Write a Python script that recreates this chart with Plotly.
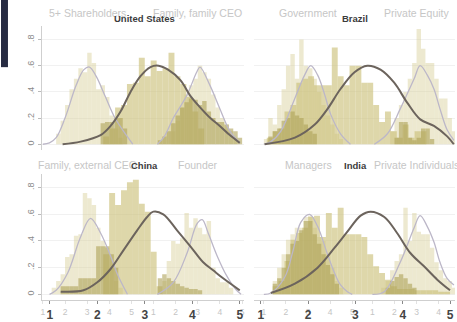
import plotly.graph_objects as go

W, H = 457, 322

# ---------------- United States ----------------
us_pale1_x = [1.7, 1.9, 2.1, 2.3, 2.5, 2.7, 2.9, 3.1, 3.3, 3.5, 3.7, 3.9, 4.1, 4.3, 4.5]
us_pale1_y = [0.08, 0.18, 0.30, 0.42, 0.50, 0.58, 0.55, 0.70, 0.62, 0.42, 0.45, 0.36, 0.22, 0.12, 0.05]
us_dark1_x = [3.7, 3.9, 4.1, 4.3, 4.5, 4.7]
us_dark1_y = [0.16, 0.17, 0.17, 0.20, 0.20, 0.12]
us_pale2_x = [1.9, 2.1, 2.3, 2.5, 2.7, 2.9, 3.1, 3.3, 3.5, 3.7, 3.9, 4.1, 4.3, 4.5, 4.7]
us_pale2_y = [0.10, 0.18, 0.28, 0.38, 0.45, 0.50, 0.60, 0.55, 0.50, 0.38, 0.28, 0.20, 0.15, 0.10, 0.05]
us_dark2_x = [1.3, 1.5, 1.7, 1.9, 2.1, 2.3, 2.5, 2.7, 2.9, 3.1, 3.3, 3.5, 3.7, 3.9, 4.1, 4.3, 4.5, 4.7, 4.9]
us_dark2_y = [0.03, 0.06, 0.10, 0.16, 0.22, 0.28, 0.32, 0.35, 0.34, 0.30, 0.33, 0.25, 0.20, 0.17, 0.17, 0.15, 0.12, 0.10, 0.05]
us_bold_x = [2.1875, 2.3125, 2.4375, 2.5625, 2.6875, 2.8125, 2.9375, 3.0625, 3.1875,
             3.3125, 3.4375, 3.5625, 3.6875, 3.8125, 3.9375, 4.0625, 4.1875]
us_bold_y = [0.06, 0.12, 0.28, 0.30, 0.46, 0.47, 0.66, 0.52, 0.64,
             0.56, 0.58, 0.70, 0.52, 0.46, 0.36, 0.25, 0.12]
us_curve1_x = [1.0, 1.3, 1.6, 2.0, 2.5, 2.85, 3.1, 3.4, 3.8, 4.25, 4.8, 5.05]
us_curve1_y = [0.0, 0.01, 0.05, 0.20, 0.45, 0.57, 0.59, 0.52, 0.37, 0.20, 0.06, 0.0]
us_curve2_x = [1.18, 1.5, 1.9, 2.5, 2.95, 3.1, 3.55, 4.0, 4.45, 4.9]
us_curve2_y = [0.0, 0.06, 0.20, 0.37, 0.55, 0.59, 0.45, 0.27, 0.10, 0.01]
us_fit_x = [1.27, 1.65, 2.07, 2.28, 2.49, 2.70, 2.91, 3.12, 3.29, 3.49, 3.75, 3.96, 4.17, 4.38, 4.58, 4.79, 5.0]
us_fit_y = [0.0, 0.02, 0.07, 0.14, 0.25, 0.40, 0.52, 0.59, 0.60, 0.57, 0.49, 0.37, 0.28, 0.20, 0.14, 0.07, 0.01]

# ---------------- Brazil ----------------
br_pale1_x = [1.1, 1.3, 1.5, 1.7, 1.9, 2.1, 2.3, 2.5, 2.7, 2.9, 3.1, 3.3, 3.5, 3.7, 3.9, 4.1, 4.3, 4.5]
br_pale1_y = [0.04, 0.20, 0.15, 0.30, 0.42, 0.60, 0.69, 0.50, 0.80, 0.60, 0.58, 0.50, 0.40, 0.30, 0.22, 0.15, 0.08, 0.04]
br_dark1_x = [1.3, 1.5, 1.7, 1.9, 2.1, 2.3, 2.5, 2.7, 2.9, 3.1, 3.3]
br_dark1_y = [0.06, 0.10, 0.12, 0.18, 0.20, 0.25, 0.22, 0.20, 0.15, 0.10, 0.08]
br_pale2_x = [1.9, 2.1, 2.3, 2.5, 2.7, 2.9, 3.1, 3.3, 3.5, 3.7, 3.9, 4.1, 4.3, 4.5, 4.7]
br_pale2_y = [0.10, 0.20, 0.30, 0.40, 0.50, 0.62, 0.88, 0.73, 0.62, 0.62, 0.50, 0.35, 0.35, 0.20, 0.10]
br_dark2_x = [2.1, 2.3, 2.5, 2.7, 2.9, 3.1, 3.3, 3.5, 3.7]
br_dark2_y = [0.05, 0.17, 0.17, 0.05, 0.03, 0.05, 0.12, 0.12, 0.04]
br_bold_x = [1.1875, 1.3125, 1.4375, 1.5625, 1.6875, 1.8125, 1.9375, 2.0625, 2.1875, 2.3125,
             2.4375, 2.5625, 2.6875, 2.8125, 2.9375, 3.0625, 3.1875, 3.3125, 3.4375, 3.5625,
             3.6875, 3.8125, 3.9375, 4.0625, 4.1875, 4.3125, 4.4375]
br_bold_y = [0.05, 0.10, 0.12, 0.25, 0.30, 0.47, 0.50, 0.52, 0.45, 0.45,
             0.45, 0.74, 0.52, 0.45, 0.60, 0.60, 0.47, 0.47, 0.30, 0.17,
             0.25, 0.10, 0.05, 0.15, 0.05, 0.10, 0.10]
br_curve1_x = [1.0, 1.32, 1.77, 2.40, 2.85, 3.12, 3.43, 3.75, 4.02, 4.47, 4.92]
br_curve1_y = [0.0, 0.02, 0.10, 0.35, 0.53, 0.60, 0.53, 0.38, 0.23, 0.08, 0.0]
br_curve2_x = [1.09, 1.68, 2.26, 2.89, 3.16, 3.48, 3.79, 4.06, 4.38, 4.69]
br_curve2_y = [0.0, 0.08, 0.27, 0.50, 0.60, 0.53, 0.42, 0.27, 0.11, 0.03]
br_fit_x = [1.08, 1.72, 2.14, 2.41, 2.68, 2.98, 3.25, 3.53, 3.82, 4.09, 4.37, 4.66, 4.94, 5.08]
br_fit_y = [0.0, 0.05, 0.15, 0.27, 0.42, 0.55, 0.60, 0.57, 0.47, 0.32, 0.19, 0.14, 0.06, 0.0]

# ---------------- China ----------------
cn_pale1_x = [1.5, 1.7, 1.9, 2.1, 2.3, 2.5, 2.7, 2.9, 3.1, 3.3, 3.5, 3.7, 3.9, 4.1, 4.3, 4.5]
cn_pale1_y = [0.05, 0.10, 0.15, 0.28, 0.30, 0.44, 0.45, 0.76, 0.72, 0.67, 0.50, 0.40, 0.35, 0.20, 0.10, 0.05]
cn_dark1_x = [1.9, 2.1, 2.3, 2.5, 2.7, 2.9, 3.1, 3.3, 3.5, 3.7, 3.9, 4.1, 4.3]
cn_dark1_y = [0.06, 0.06, 0.06, 0.06, 0.12, 0.12, 0.12, 0.12, 0.36, 0.36, 0.36, 0.30, 0.20]
cn_pale2_x = [1.5, 1.7, 1.9, 2.1, 2.3, 2.5, 2.7, 2.9, 3.1, 3.3, 3.5, 3.7, 3.9, 4.1, 4.3, 4.5]
cn_pale2_y = [0.10, 0.25, 0.40, 0.38, 0.42, 0.61, 0.50, 0.57, 0.50, 0.45, 0.55, 0.20, 0.12, 0.09, 0.09, 0.05]
cn_dark2_x = [1.3, 1.5, 1.7, 1.9, 2.1, 2.3, 2.5, 2.7, 2.9, 3.1]
cn_dark2_y = [0.12, 0.15, 0.12, 0.10, 0.08, 0.06, 0.05, 0.04, 0.04, 0.03]
cn_bold_x = [2.1875, 2.3125, 2.4375, 2.5625, 2.6875, 2.8125, 2.9375, 3.0625, 3.1875, 3.3125]
cn_bold_y = [0.30, 0.76, 0.67, 0.78, 0.84, 0.86, 0.68, 0.62, 0.32, 0.06]
cn_curve1_x = [1.3, 1.6, 2.12, 2.7, 3.15, 3.6, 4.05, 4.36, 4.81]
cn_curve1_y = [0.0, 0.03, 0.16, 0.43, 0.57, 0.46, 0.29, 0.15, 0.0]
cn_curve2_x = [1.18, 1.90, 2.52, 2.97, 3.20, 3.47, 3.87, 4.3, 4.7, 4.95]
cn_curve2_y = [0.0, 0.09, 0.31, 0.53, 0.56, 0.46, 0.29, 0.14, 0.04, 0.0]
cn_fit_x = [1.23, 1.71, 2.0, 2.28, 2.55, 2.84, 3.05, 3.18, 3.39, 3.68, 3.96, 4.23, 4.44, 4.65, 5.0]
cn_fit_y = [0.02, 0.03, 0.09, 0.19, 0.33, 0.48, 0.58, 0.62, 0.60, 0.48, 0.36, 0.24, 0.18, 0.12, 0.03]

# ---------------- India ----------------
in_pale1_x = [1.5, 1.7, 1.9, 2.1, 2.3, 2.5, 2.7, 2.9, 3.1, 3.3, 3.5, 3.7, 3.9, 4.1, 4.3, 4.5]
in_pale1_y = [0.10, 0.20, 0.30, 0.41, 0.45, 0.50, 0.50, 0.58, 0.59, 0.50, 0.43, 0.40, 0.30, 0.20, 0.10, 0.05]
in_dark1_x = [1.5, 1.7, 1.9, 2.1, 2.3, 2.5, 2.7, 2.9, 3.1, 3.3, 3.5, 3.7, 3.9, 4.1, 4.3]
in_dark1_y = [0.08, 0.12, 0.20, 0.30, 0.38, 0.40, 0.48, 0.55, 0.55, 0.45, 0.38, 0.30, 0.22, 0.15, 0.08]
in_pale2_x = [1.5, 1.7, 1.9, 2.1, 2.3, 2.5, 2.7, 2.9, 3.1, 3.3, 3.5, 3.7, 3.9, 4.1, 4.3, 4.5, 4.7]
in_pale2_y = [0.05, 0.10, 0.18, 0.25, 0.30, 0.65, 0.40, 0.61, 0.47, 0.45, 0.45, 0.35, 0.24, 0.18, 0.12, 0.10, 0.05]
in_dark2_x = [1.7, 1.9, 2.1, 2.3, 2.5, 2.7, 2.9]
in_dark2_y = [0.05, 0.10, 0.13, 0.15, 0.12, 0.08, 0.05]
in_bold_x = [1.3125, 1.4375, 1.5625, 1.6875, 1.8125, 1.9375, 2.0625, 2.1875, 2.3125, 2.4375,
             2.5625, 2.6875, 2.8125, 2.9375, 3.0625, 3.1875, 3.3125, 3.4375, 3.5625, 3.6875,
             3.8125, 3.9375, 4.0625, 4.1875, 4.3125, 4.4375, 4.5625, 4.6875, 4.8125, 4.9375]
in_bold_y = [0.06, 0.10, 0.25, 0.41, 0.46, 0.50, 0.58, 0.59, 0.43, 0.61,
             0.50, 0.65, 0.45, 0.45, 0.45, 0.43, 0.30, 0.21, 0.16, 0.11,
             0.06, 0.04, 0.04, 0.04, 0.03, 0.03, 0.03, 0.03, 0.02, 0.02]
in_curve1_x = [1.0, 1.32, 1.95, 2.31, 2.67, 3.07, 3.43, 3.88, 4.2, 4.47, 4.78, 5.0]
in_curve1_y = [0.0, 0.01, 0.13, 0.32, 0.54, 0.60, 0.51, 0.30, 0.16, 0.07, 0.02, 0.0]
in_curve2_x = [1.0, 1.54, 2.26, 2.89, 3.16, 3.48, 3.79, 4.06, 4.38, 4.69]
in_curve2_y = [0.0, 0.02, 0.24, 0.50, 0.59, 0.51, 0.39, 0.24, 0.12, 0.07]
in_fit_x = [1.21, 1.72, 2.2, 2.56, 2.83, 3.11, 3.32, 3.61, 3.88, 4.16, 4.45, 4.73, 5.0]
in_fit_y = [0.01, 0.08, 0.20, 0.35, 0.47, 0.59, 0.62, 0.58, 0.46, 0.31, 0.21, 0.11, 0.03]

# tick labels
x_ticks = [1, 2, 3, 4, 5]
y_ticks = [0, 0.2, 0.4, 0.6, 0.8]
y_ticktext = ["0", ".2", ".4", ".6", ".8"]

panels = [
    dict(name="United States", sub=("5+ Shareholders", "Family, family CEO"), row=0, col=0,
         pale1=(us_pale1_x, us_pale1_y), dark1=(us_dark1_x, us_dark1_y),
         pale2=(us_pale2_x, us_pale2_y), dark2=(us_dark2_x, us_dark2_y),
         bold=(us_bold_x, us_bold_y), c1=(us_curve1_x, us_curve1_y),
         c2=(us_curve2_x, us_curve2_y), fit=(us_fit_x, us_fit_y)),
    dict(name="Brazil", sub=("Government", "Private Equity"), row=0, col=1,
         pale1=(br_pale1_x, br_pale1_y), dark1=(br_dark1_x, br_dark1_y),
         pale2=(br_pale2_x, br_pale2_y), dark2=(br_dark2_x, br_dark2_y),
         bold=(br_bold_x, br_bold_y), c1=(br_curve1_x, br_curve1_y),
         c2=(br_curve2_x, br_curve2_y), fit=(br_fit_x, br_fit_y)),
    dict(name="China", sub=("Family, external CEO", "Founder"), row=1, col=0,
         pale1=(cn_pale1_x, cn_pale1_y), dark1=(cn_dark1_x, cn_dark1_y),
         pale2=(cn_pale2_x, cn_pale2_y), dark2=(cn_dark2_x, cn_dark2_y),
         bold=(cn_bold_x, cn_bold_y), c1=(cn_curve1_x, cn_curve1_y),
         c2=(cn_curve2_x, cn_curve2_y), fit=(cn_fit_x, cn_fit_y)),
    dict(name="India", sub=("Managers", "Private Individuals"), row=1, col=1,
         pale1=(in_pale1_x, in_pale1_y), dark1=(in_dark1_x, in_dark1_y),
         pale2=(in_pale2_x, in_pale2_y), dark2=(in_dark2_x, in_dark2_y),
         bold=(in_bold_x, in_bold_y), c1=(in_curve1_x, in_curve1_y),
         c2=(in_curve2_x, in_curve2_y), fit=(in_fit_x, in_fit_y)),
]

# geometry (pixels) of each column / row
col_px = [(41, 244), (254, 456)]
# where value 1 sits and pixels per unit, for the wide and the two narrow scales
bold_scale = [(49, 47.7), (261, 47.5)]
sub1_scale = [(42, 22.3), (264, 22.2)]
sub2_scale = [(153, 22.3), (373, 22.2)]
row_px = [(26.8, 152.0), (176.5, 304.1)]
Y_RANGE = [-0.045, 0.9]

PALE = "rgba(214,206,150,0.45)"
MID = "rgba(202,191,118,0.62)"
DARK = "rgba(172,160,84,0.58)"
GREY_LINE = "#bcb7c8"
FIT_LINE = "#6c645d"
FONT = "Liberation Sans"


def rng(px0, px1, one, ppu):
    return [1 + (px0 - one) / ppu, 1 + (px1 - one) / ppu]


fig = go.Figure()
layout = dict(
    width=W, height=H, margin=dict(l=0, r=0, t=0, b=0),
    paper_bgcolor="white", plot_bgcolor="white",
    barmode="overlay", showlegend=False,
    font=dict(family=FONT),
)
annotations = []

for p, pn in enumerate(panels):
    r, c = pn["row"], pn["col"]
    base = p * 6 + 1
    yname = "y" if p == 0 else f"y{p + 1}"
    ykey = "yaxis" if p == 0 else f"yaxis{p + 1}"
    xnames = ["x" if k == 1 else f"x{k}" for k in range(base, base + 6)]
    xkeys = ["xaxis" if k == 1 else f"xaxis{k}" for k in range(base, base + 6)]
    roles = ["s1", "s2", "b", "s1", "s2", "b"]
    px0, px1 = col_px[c]
    scales = {"s1": sub1_scale[c], "s2": sub2_scale[c], "b": bold_scale[c]}

    for j, (xk, role) in enumerate(zip(xkeys, roles)):
        one, ppu = scales[role]
        ax = dict(range=rng(px0, px1, one, ppu), anchor=yname, showgrid=False,
                  zeroline=False, fixedrange=True, tickvals=x_ticks,
                  showticklabels=False, ticks="", showline=False)
        if j == 0:
            ax["domain"] = [px0 / W, px1 / W]
        else:
            ax["overlaying"] = xnames[0]
        if r == 1 and j < 3:
            ax["showticklabels"] = True
            ax["ticks"] = "outside"
            ax["ticklen"] = 3
            if role == "b":
                ax["tickfont"] = dict(size=12, color="#444", family=FONT, weight="bold")
                ax["tickcolor"] = "#888"
                ax["showline"] = True
                ax["linecolor"] = "#cfcfcf"
            else:
                ax["tickfont"] = dict(size=8.5, color="#c4c4c4", family=FONT)
                ax["tickcolor"] = "#e2e2e2"
        layout[xk] = ax

    y0px, y1px = row_px[r]
    layout[ykey] = dict(
        domain=[1 - y1px / H, 1 - y0px / H], range=Y_RANGE, anchor=xnames[0],
        tickvals=y_ticks, ticktext=y_ticktext, showgrid=True, gridcolor="#f1f1f1",
        zeroline=False, fixedrange=True,
        showticklabels=(c == 0), ticks="outside" if c == 0 else "",
        ticklen=3, tickcolor="#bbb", tickangle=-90,
        tickfont=dict(size=9, color="#8a8a8a", family=FONT),
        showline=(c == 0), linecolor="#cfcfcf",
    )

    def bars(data, axis, color, width):
        fig.add_trace(go.Bar(x=data[0], y=data[1], width=width, xaxis=axis, yaxis=yname,
                             marker=dict(color=color, line=dict(width=0)), hoverinfo="skip"))

    def curve(data, axis, color, lw):
        fig.add_trace(go.Scatter(x=data[0], y=data[1], mode="lines", xaxis=axis, yaxis=yname,
                                 line=dict(color=color, width=lw, shape="spline", smoothing=1.0),
                                 hoverinfo="skip"))

    bars(pn["pale1"], xnames[0], PALE, 0.2)
    bars(pn["pale2"], xnames[1], PALE, 0.2)
    bars(pn["bold"], xnames[2], MID, 0.125)
    bars(pn["dark1"], xnames[3], DARK, 0.2)
    curve(pn["c1"], xnames[3], GREY_LINE, 1.3)
    bars(pn["dark2"], xnames[4], DARK, 0.2)
    curve(pn["c2"], xnames[4], GREY_LINE, 1.3)
    curve(pn["fit"], xnames[5], FIT_LINE, 2.0)

    # panel titles: two faint sub-headings plus the country name
    b_one, b_ppu = bold_scale[c]
    s1_one, s1_ppu = sub1_scale[c]
    s2_one, s2_ppu = sub2_scale[c]
    head_y = 13 if r == 0 else 167
    name_y = 19 if r == 0 else 168
    for txt, cx in ((pn["sub"][0], s1_one + 2 * s1_ppu), (pn["sub"][1], s2_one + 2 * s2_ppu)):
        annotations.append(dict(text=txt, x=cx / W, y=1 - head_y / H, xref="paper", yref="paper",
                                xanchor="center", yanchor="middle", showarrow=False,
                                font=dict(size=10.5, color="#c6c6c6", family=FONT)))
    annotations.append(dict(text=pn["name"], x=(b_one + 2 * b_ppu) / W, y=1 - name_y / H,
                            xref="paper", yref="paper", xanchor="center", yanchor="middle",
                            showarrow=False,
                            font=dict(size=9.5, color="#3c3c3c", family=FONT, weight="bold")))

layout["annotations"] = annotations
layout["shapes"] = [dict(type="rect", xref="paper", yref="paper", x0=0, x1=7 / W,
                         y0=1 - 68 / H, y1=1, fillcolor="#272b42", line=dict(width=0), layer="above")]
fig.update_layout(**layout)
fig.write_html("out.html")
